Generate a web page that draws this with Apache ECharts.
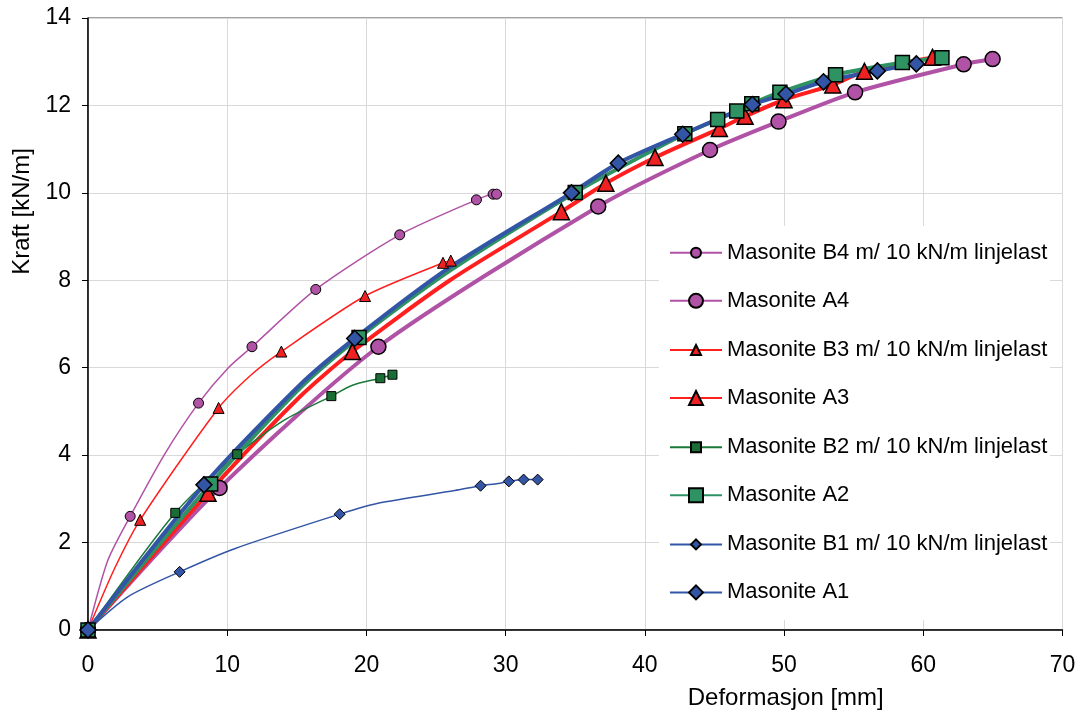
<!DOCTYPE html>
<html>
<head>
<meta charset="utf-8">
<script src="https://cdn.jsdelivr.net/npm/echarts@6/dist/echarts.min.js"></script>
<style>
  html, body { margin: 0; padding: 0; background: #fff; overflow: hidden; }
  #chart { width: 1083px; height: 715px; }
</style>
</head>
<body>
<div id="chart"></div>
<script>
// axis ticks
const xTicks = { min: 0, max: 70, step: 10 };
const yTicks = { min: 0, max: 14, step: 2 };

// measured points (shown with markers)
const b4Marks = [[0, 0], [3.03, 2.6], [7.94, 5.19], [11.78, 6.48], [16.36, 7.79], [22.39, 9.04], [27.9, 9.84], [29.1, 9.97], [29.35, 9.97]];
const a4Marks = [[0, 0], [9.45, 3.25], [20.86, 6.48], [36.65, 9.69], [44.68, 10.98], [49.6, 11.63], [55.1, 12.3], [62.9, 12.94], [64.98, 13.06]];
const b3Marks = [[0, 0], [3.75, 2.52], [9.38, 5.08], [13.89, 6.37], [19.9, 7.64], [25.5, 8.4], [26.06, 8.45]];
const a3Marks = [[0, 0], [8.62, 3.13], [18.99, 6.37], [34.0, 9.57], [37.2, 10.22], [40.73, 10.81], [45.35, 11.47], [47.2, 11.75], [50.0, 12.13], [53.5, 12.47], [55.77, 12.78], [60.66, 13.1]];
const b2Marks = [[0, 0], [6.27, 2.68], [10.72, 4.02], [17.48, 5.35], [21.0, 5.76], [21.87, 5.84]];
const a2Marks = [[0, 0], [8.81, 3.34], [19.47, 6.69], [35.0, 10.01], [42.87, 11.35], [45.23, 11.68], [46.6, 11.87], [47.68, 12.04], [49.7, 12.3], [53.7, 12.7], [58.5, 12.98], [61.34, 13.09]];
const b1Marks = [[0, 0], [6.58, 1.33], [18.08, 2.65], [28.2, 3.3], [30.23, 3.4], [31.29, 3.44], [32.3, 3.44]];
const a1Marks = [[0, 0], [8.33, 3.32], [19.16, 6.67], [34.73, 10.0], [38.09, 10.68], [42.72, 11.34], [47.72, 12.02], [50.14, 12.26], [52.83, 12.54], [56.7, 12.79], [59.5, 12.95]];

// extra points (no marker)
const b4Trace = [[1.42, 1.59], [5.5, 4.02], [10.05, 5.99]];
const a4Trace = [];
const b3Trace = [[1.9, 1.4], [11.73, 5.84]];
const a3Trace = [[15.2, 5.33], [26.0, 8.0]];
const b2Trace = [[14.1, 4.8], [19.0, 5.6]];
const a2Trace = [[15.2, 5.52], [26.0, 8.22]];
const b1Trace = [[2.86, 0.76], [10.53, 1.86], [20.83, 2.9], [26.35, 3.19], [29.46, 3.35]];
const a1Trace = [[15.2, 5.6], [26.0, 8.3]];

const FONT = 'Liberation Sans, Arial, sans-serif';

function build(marks, trace) {
  const pts = marks.map(p => ({ value: p }))
    .concat(trace.map(p => ({ value: p, symbol: 'none' })));
  pts.sort((a, b) => a.value[0] - b.value[0]);
  return pts;
}

function line(name, marks, trace, color, fill, width, symbol, size, borderWidth) {
  return {
    name: name,
    type: 'line',
    data: build(marks, trace),
    smooth: 0.25,
    symbol: symbol,
    symbolSize: size,
    showAllSymbol: true,
    lineStyle: { color: color, width: width },
    itemStyle: { color: fill, borderColor: '#000', borderWidth: borderWidth },
    emphasis: { disabled: true },
    animation: false
  };
}

const purple = '#B052A5', red = '#FF1F1F', dkGreen = '#1B7A3B', green = '#2E9262', blue = '#3355A5';

const series = [
  line('Masonite B4 m/ 10 kN/m linjelast', b4Marks, b4Trace, purple, purple, 1.5, 'circle', 10, 1),
  line('Masonite A4', a4Marks, a4Trace, purple, purple, 4, 'circle', 15, 1.5),
  line('Masonite B3 m/ 10 kN/m linjelast', b3Marks, b3Trace, red, '#EE2222', 1.5, 'triangle', 11, 1),
  line('Masonite A3', a3Marks, a3Trace, red, '#EE2222', 4, 'triangle', 16, 1.5),
  line('Masonite B2 m/ 10 kN/m linjelast', b2Marks, b2Trace, dkGreen, '#1A6E35', 1.5, 'rect', 9, 1),
  line('Masonite A2', a2Marks, a2Trace, green, green, 4, 'rect', 14, 1.5),
  line('Masonite B1 m/ 10 kN/m linjelast', b1Marks, b1Trace, blue, blue, 1.5, 'diamond', 11, 1),
  line('Masonite A1', a1Marks, a1Trace, blue, blue, 4, 'diamond', 16, 1.5)
];

const thinNames = [series[0].name, series[2].name, series[4].name, series[6].name];
const thickNames = [series[1].name, series[3].name, series[5].name, series[7].name];

const legendBase = {
  orient: 'vertical',
  left: 669,
  padding: 0,
  itemWidth: 52,
  itemGap: 73.2,
  selectedMode: false,
  textStyle: { fontFamily: FONT, fontSize: 22, color: '#000', lineHeight: 24 }
};

const chart = echarts.init(document.getElementById('chart'), null, { renderer: 'canvas' });
chart.setOption({
  backgroundColor: '#fff',
  animation: false,
  grid: { left: 88, width: 974.5, top: 18, height: 615, show: true, borderColor: '#404040', borderWidth: 1 },
  graphic: [{
    type: 'rect', z: 1,
    shape: { x: 659, y: 226, width: 391, height: 394 },
    style: { fill: '#fff' }
  }],
  legend: [
    Object.assign({}, legendBase, { data: thinNames, top: 240.8, itemHeight: 12.5 }),
    Object.assign({}, legendBase, { data: thickNames, top: 288.8, itemHeight: 17.5 })
  ],
  xAxis: {
    type: 'value',
    min: xTicks.min, max: xTicks.max, interval: xTicks.step,
    name: 'Deformasjon [mm]',
    nameLocation: 'middle',
    nameGap: 56,
    nameTextStyle: { fontFamily: FONT, fontSize: 24, color: '#000', padding: [0, 0, 0, 421] },
    axisLine: { onZero: false, lineStyle: { color: '#000', width: 1.5 } },
    axisTick: { show: true, length: 6, lineStyle: { color: '#000' } },
    axisLabel: { fontFamily: FONT, fontSize: 23, color: '#000', margin: 24 },
    splitLine: { show: true, lineStyle: { color: '#d9d9d9', width: 1 } }
  },
  yAxis: {
    type: 'value',
    min: yTicks.min, max: yTicks.max, interval: yTicks.step,
    name: 'Kraft [kN/m]',
    nameLocation: 'middle',
    nameGap: 53,
    nameTextStyle: { fontFamily: FONT, fontSize: 24, color: '#000', padding: [0, 0, 0, 225] },
    axisLine: { onZero: false, lineStyle: { color: '#000', width: 1.5 } },
    axisTick: { show: true, length: 6, lineStyle: { color: '#000' } },
    axisLabel: { fontFamily: FONT, fontSize: 23, color: '#000', margin: 17 },
    splitLine: { show: true, lineStyle: { color: '#d9d9d9', width: 1 } }
  },
  series: series
});
</script>
</body>
</html>
